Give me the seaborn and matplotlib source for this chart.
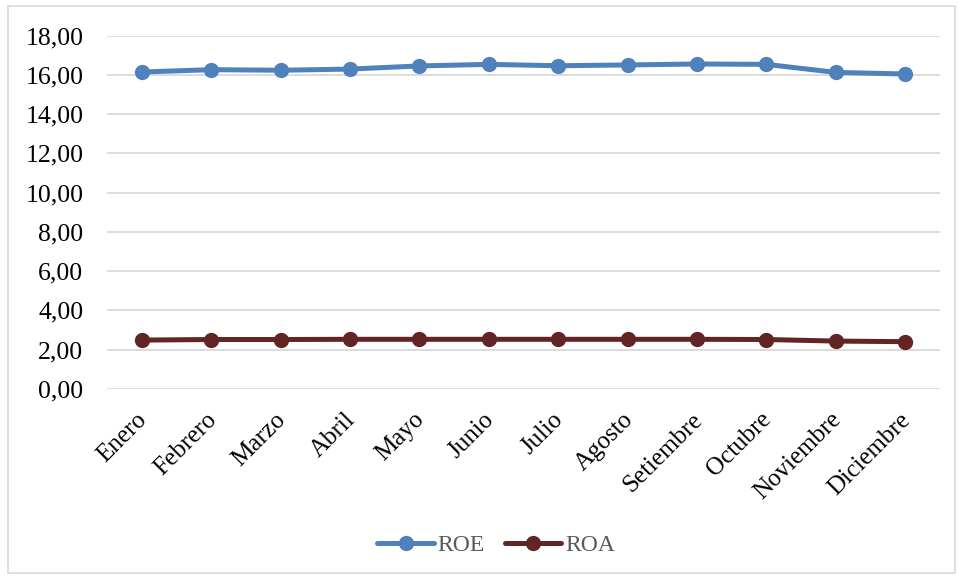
import matplotlib
matplotlib.use("Agg")
import matplotlib.pyplot as plt
import matplotlib.transforms as mtransforms
import seaborn as sns
import pandas as pd
from matplotlib.patches import Rectangle
from matplotlib.lines import Line2D

meses = ["Enero", "Febrero", "Marzo", "Abril", "Mayo", "Junio", "Julio",
         "Agosto", "Setiembre", "Octubre", "Noviembre", "Diciembre"]
roe = [16.14, 16.26, 16.23, 16.29, 16.45, 16.53, 16.46, 16.50, 16.55, 16.53, 16.12, 16.04]
roa = [2.49, 2.52, 2.52, 2.53, 2.53, 2.53, 2.53, 2.53, 2.53, 2.52, 2.44, 2.41]
series_names = ["ROE", "ROA"]
colors = {"ROE": "#4F81BD", "ROA": "#632523"}
yticks = [0, 2, 4, 6, 8, 10, 12, 14, 16, 18]

df = pd.DataFrame({
    "Valor": roe + roa,
    "Serie": ["ROE"] * len(meses) + ["ROA"] * len(meses),
})
df["x"] = list(range(len(meses))) * 2

sns.set_theme(style="white")
plt.rcParams["font.family"] = ["Liberation Serif", "DejaVu Serif"]

fig = plt.figure(figsize=(9.58, 5.76), dpi=100)
ax = fig.add_axes([107/958, 1 - 389/576, (940 - 107)/958, (389 - 35.5)/576])

sns.lineplot(data=df, x="x", y="Valor", hue="Serie", hue_order=series_names,
             palette=colors, marker="o", markersize=11, markeredgewidth=0,
             linewidth=3.6, ax=ax, legend=False, sort=False)

ax.set_xlim(-0.5, len(meses) - 0.5)
ax.set_ylim(0, 18)
ax.set_yticks(yticks)
ax.set_yticklabels([f"{v:.2f}".replace(".", ",") for v in yticks], fontsize=18.5, color="#000000")
ax.set_xticks(range(len(meses)))
ax.set_xticklabels(meses, rotation=45, ha="right", rotation_mode="anchor", fontsize=18, color="#000000")
ax.tick_params(axis="y", length=0, pad=17)
ax.tick_params(axis="x", length=0, pad=14)
offset = mtransforms.ScaledTranslation(-6/100, 0, fig.dpi_scale_trans)
for lbl in ax.get_xticklabels():
    lbl.set_transform(lbl.get_transform() + offset)
ax.set_xlabel("")
ax.set_ylabel("")
ax.grid(axis="y", color="#D9D9D9", linewidth=1.3)
ax.set_axisbelow(True)
for s in ax.spines.values():
    s.set_visible(False)

handles = [Line2D([0], [0], color=colors[n], marker="o", markersize=11, linewidth=3.6,
                  markeredgewidth=0, solid_capstyle="round") for n in series_names]
leg = fig.legend(handles, series_names, loc="center", bbox_to_anchor=(496/958, 1 - 545/576),
                 ncol=2, frameon=False, fontsize=17, handlelength=2.4, handletextpad=0.15,
                 columnspacing=0.85)
for t in leg.get_texts():
    t.set_color("#595959")

fig.patches.append(Rectangle((8/958, 3/576), 947/958, 567/576, transform=fig.transFigure,
                             fill=False, edgecolor="#D9D9D9", linewidth=1.2))

fig.savefig("out.png", dpi=100, facecolor="white")
